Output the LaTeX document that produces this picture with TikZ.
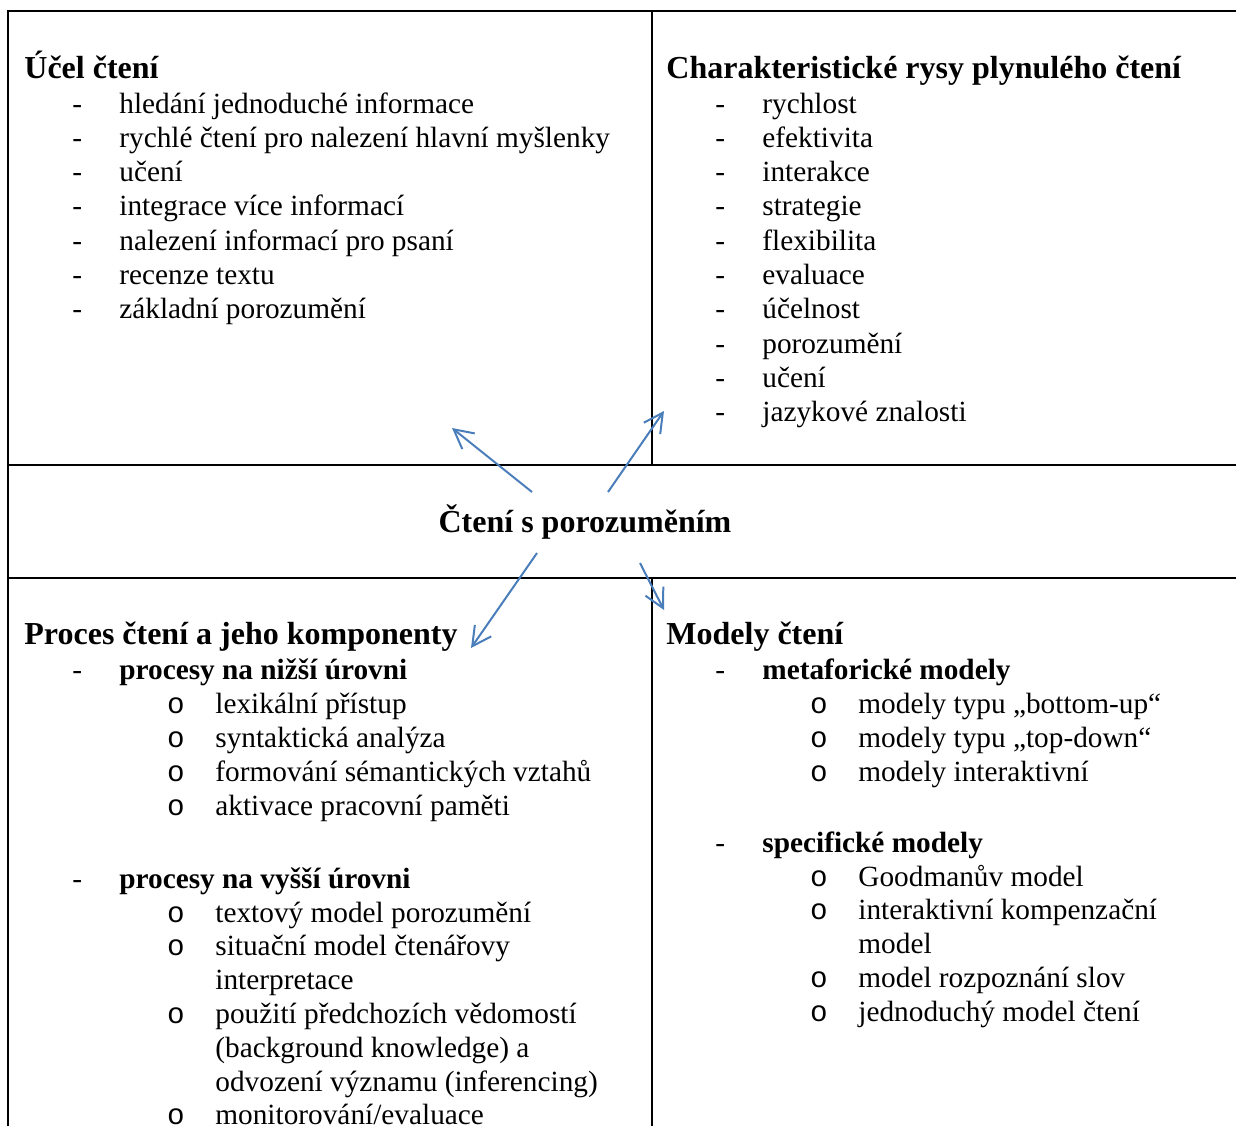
\documentclass[tikz,border=0pt]{standalone}
\usepackage{fontspec}
\setmainfont{Liberation Serif}
\setmonofont{Liberation Mono}
\usetikzlibrary{arrows.meta}
\definecolor{arblue}{HTML}{4A7EBB}
\tikzset{
    HD/.style ={anchor=base west, inner sep=0pt, font=\fontsize{16}{19}\selectfont\bfseries},
    IT/.style ={anchor=base west, inner sep=0pt, font=\fontsize{14.65}{17}\selectfont},
    IB/.style ={anchor=base west, inner sep=0pt, font=\fontsize{14.65}{17}\selectfont\bfseries},
    DS/.style ={anchor=base west, inner sep=0pt, font=\fontsize{14.65}{17}\selectfont},
    CI/.style ={anchor=base, inner sep=0pt, font=\fontsize{14.65}{17}\selectfont\ttfamily},
    GR/.style ={line width=1pt},
    AR/.style ={draw=arblue, line width=1pt, -{Straight Barb[length=9.5pt,width=10pt]}}}

\begin{document}
\begin{tikzpicture}[x=0.5pt,y=-0.5pt]
        \useasboundingbox (0,0) rectangle (1236,1126);
        % grid
        \draw[GR] (8,1126) -- (8,11) -- (1236,11);
        \draw[GR] (8,465) -- (1236,465) (8,578) -- (1236,578);
        \draw[GR] (652,11) -- (652,465) (652,578) -- (652,1126);

        % top left
        \node[HD] (ucel) at (24,78) {Účel čtení};
        \foreach \txt [count=\i] in {hledání jednoduché informace,
            rychlé čtení pro nalezení hlavní myšlenky, učení,
            integrace více informací, nalezení informací pro psaní,
            recenze textu, základní porozumění}{
            \node[DS] (ucel-d\i) at ({72},{113+34.3*(\i-1)}) {-};
            \node[IT] (ucel-\i) at ({119},{113+34.3*(\i-1)}) {\txt};
        }

        % top right
        \node[HD] (rysy) at (666,78) {Charakteristické rysy plynulého čtení};
        \foreach \txt [count=\i] in {rychlost, efektivita, interakce, strategie,
            flexibilita, evaluace, účelnost, porozumění, učení, jazykové znalosti}{
            \node[DS] (rysy-d\i) at ({715},{113+34.3*(\i-1)}) {-};
            \node[IT] (rysy-\i) at ({762},{113+34.3*(\i-1)}) {\txt};
        }

        % middle
        \node[HD, anchor=base] (cteni) at (585,532) {Čtení s porozuměním};

        % bottom left
        \node[HD] (proces) at (24,644) {Proces čtení a jeho komponenty};
        \node[DS] (nizsi-d) at (72,679) {-};
        \node[IB] (nizsi) at (119,679) {procesy na nižší úrovni};
        \foreach \txt [count=\i] in {lexikální přístup, syntaktická analýza,
            formování sémantických vztahů, aktivace pracovní paměti}{
            \node[CI] (nizsi-o\i) at ({176},{713+34.1*(\i-1)}) {o};
            \node[IT] (nizsi-\i) at ({215},{713+34.1*(\i-1)}) {\txt};
        }
        \node[DS] (vyssi-d) at (72,888) {-};
        \node[IB] (vyssi) at (119,888) {procesy na vyšší úrovni};
        \foreach \txt [count=\i] in {textový model porozumění,
            situační model čtenářovy, interpretace,
            použití předchozích vědomostí, {(background knowledge) a},
            odvození významu (inferencing), monitorování/evaluace}{
            \node[IT] (vyssi-\i) at ({215},{922+33.8*(\i-1)}) {\txt};
        }
        \foreach \i in {1,2,4,7}{
            \node[CI] (vyssi-o\i) at ({176},{922+33.8*(\i-1)}) {o};
        }

        % bottom right
        \node[HD] (modely) at (666,644) {Modely čtení};
        \node[DS] (meta-d) at (715,679) {-};
        \node[IB] (meta) at (762,679) {metaforické modely};
        \foreach \txt [count=\i] in {modely typu „bottom-up“,
            modely typu „top-down“, modely interaktivní}{
            \node[CI] (meta-o\i) at ({819},{713+34.1*(\i-1)}) {o};
            \node[IT] (meta-\i) at ({858},{713+34.1*(\i-1)}) {\txt};
        }
        \node[DS] (spec-d) at (715,852) {-};
        \node[IB] (spec) at (762,852) {specifické modely};
        \foreach \txt [count=\i] in {Goodmanův model, interaktivní kompenzační,
            model, model rozpoznání slov, jednoduchý model čtení}{
            \node[IT] (spec-\i) at ({858},{886+33.8*(\i-1)}) {\txt};
        }
        \foreach \i in {1,2,4,5}{
            \node[CI] (spec-o\i) at ({819},{886+33.8*(\i-1)}) {o};
        }

        % arrows
        \coordinate (a1s) at (532,492); \coordinate (a1e) at (452,428);
        \coordinate (a2s) at (608,492); \coordinate (a2e) at (664,411);
        \coordinate (a3s) at (537,553); \coordinate (a3e) at (471,648);
        \coordinate (a4s) at (640,563); \coordinate (a4e) at (664,610);
        \draw[AR] (a1s) -- (a1e);
        \draw[AR] (a2s) -- (a2e);
        \draw[AR] (a3s) -- (a3e);
        \draw[AR] (a4s) -- (a4e);
    \end{tikzpicture}
\end{document}
